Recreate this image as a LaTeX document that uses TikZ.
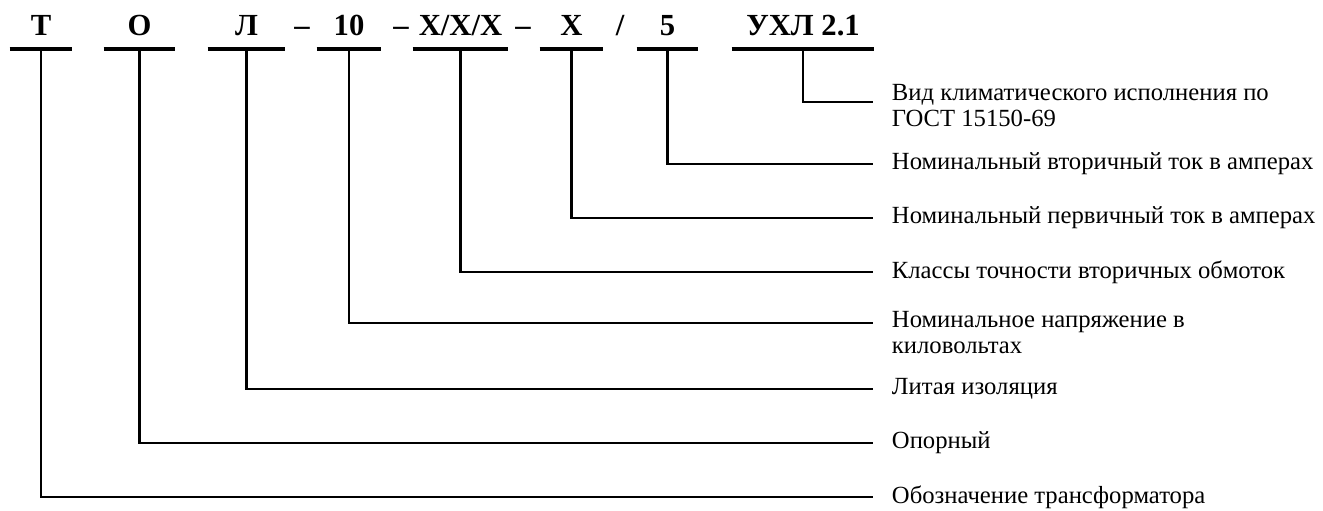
\documentclass[tikz,border=0pt]{standalone}
\usepackage{fontspec}
\setmainfont{Liberation Serif}
\usetikzlibrary{positioning}
\begin{document}
\begin{tikzpicture}[x=0.75pt,y=-0.75pt,line cap=butt,
 code/.style={font=\fontsize{23}{23}\selectfont\bfseries,anchor=south,inner xsep=0pt,inner ysep=10pt,text depth=0pt},
 lbl/.style={font=\fontsize{18.5}{19.5}\selectfont,align=left,inner sep=0pt,right=14pt of #1},
 ul/.style={line width=2.3pt}, ln/.style={line width=2pt}]
\useasboundingbox (0,0) rectangle (1323,510);
\node[code,minimum width=46.5pt] (t) at (41,49) {Т};
\node[code,minimum width=53.25pt] (o) at (139.5,49) {О};
\node[code,minimum width=57.75pt] (l) at (246.5,49) {Л};
\node[code] (d1) at (302,49) {–};
\node[code,minimum width=48pt] (kv) at (349,49) {10};
\node[code] (d2) at (401,49) {–};
\node[code,minimum width=71.25pt] (cls) at (460.5,49) {Х/Х/Х};
\node[code] (d3) at (523,49) {–};
\node[code,minimum width=47.25pt] (ip) at (571.5,49) {Х};
\node[code] (sl) at (620,49) {/};
\node[code,minimum width=45.75pt] (is) at (667.5,49) {5};
\node[code,minimum width=106.5pt] (clim) at (803,49) {УХЛ 2.1};
\draw[ul] (t.south west)--(t.south east) (o.south west)--(o.south east) (l.south west)--(l.south east) (kv.south west)--(kv.south east) (cls.south west)--(cls.south east) (ip.south west)--(ip.south east) (is.south west)--(is.south east) (clim.south west)--(clim.south east);
\coordinate (e1) at (873,102);
\coordinate (e2) at (873,164);
\coordinate (e3) at (873,218);
\coordinate (e4) at (873,272);
\coordinate (e5) at (873,323);
\coordinate (e6) at (873,389);
\coordinate (e7) at (873,443);
\coordinate (e8) at (873,497);
\draw[ln] (clim.south)|-(e1) (is.south)|-(e2) (ip.south)|-(e3) (cls.south)|-(e4) (kv.south)|-(e5) (l.south)|-(e6) (o.south)|-(e7) (t.south)|-(e8);
\node[lbl=e1,yshift=-3pt] (vid) {Вид климатического исполнения по\\ГОСТ 15150-69};
\node[lbl=e2] (vtor) {Номинальный вторичный ток в амперах};
\node[lbl=e3] (perv) {Номинальный первичный ток в амперах};
\node[lbl=e4] (klass) {Классы точности вторичных обмоток};
\node[lbl=e5,yshift=-7.5pt] (napr) {Номинальное напряжение в\\киловольтах};
\node[lbl=e6] (izol) {Литая изоляция};
\node[lbl=e7] (opor) {Опорный};
\node[lbl=e8] (oboz) {Обозначение трансформатора};
\end{tikzpicture}
\end{document}
